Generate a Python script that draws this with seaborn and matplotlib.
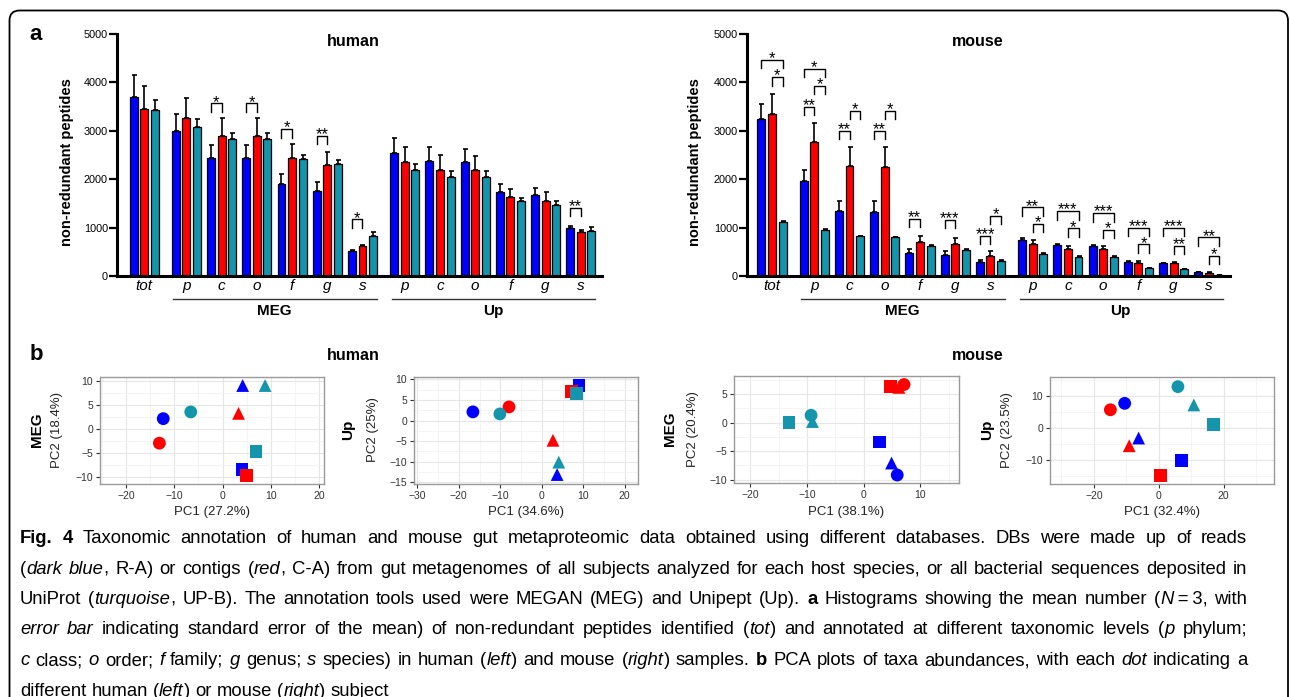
import numpy as np
import pandas as pd
import matplotlib
matplotlib.use("Agg")
import matplotlib.pyplot as plt
import seaborn as sns
from matplotlib.patches import FancyBboxPatch
from matplotlib.ticker import MultipleLocator
from matplotlib.font_manager import FontProperties
import matplotlib.transforms as mtransforms

# ---------------- data ----------------
levels = ["p", "c", "o", "f", "g", "s"]
bar_labels = ["tot"] + levels + levels
tool_groups = ["MEG", "Up"]
databases = ["R-A", "C-A", "UP-B"]
db_colors = {"R-A": "#0000FF", "C-A": "#FF0000", "UP-B": "#1495AB"}

# human (a, left): mean and SEM for tot, MEG p..s, Up p..s
human_RA_mean = [3690, 3000, 2435, 2435, 1900, 1765, 525, 2550, 2380, 2360, 1745, 1670, 1000]
human_RA_sem = [470, 345, 275, 275, 200, 185, 8, 300, 275, 270, 165, 150, 40]
human_CA_mean = [3450, 3260, 2890, 2890, 2435, 2300, 630, 2360, 2200, 2190, 1635, 1550, 900]
human_CA_sem = [480, 420, 370, 370, 295, 270, 20, 310, 290, 290, 170, 180, 50]
human_UPB_mean = [3420, 3080, 2830, 2830, 2410, 2320, 830, 2190, 2055, 2050, 1550, 1475, 930]
human_UPB_sem = [220, 170, 130, 130, 90, 70, 70, 130, 115, 110, 65, 65, 75]

# mouse (a, right)
mouse_RA_mean = [3250, 1960, 1340, 1330, 470, 435, 283, 750, 640, 630, 290, 260, 75]
mouse_RA_sem = [310, 230, 205, 210, 80, 90, 42, 30, 20, 20, 20, 15, 5]
mouse_CA_mean = [3340, 2765, 2270, 2260, 700, 670, 415, 655, 565, 565, 275, 270, 70]
mouse_CA_sem = [420, 400, 400, 405, 130, 125, 95, 85, 50, 50, 35, 20, 20]
mouse_UPB_mean = [1125, 950, 820, 805, 620, 530, 315, 450, 395, 395, 160, 145, 20]
mouse_UPB_sem = [12, 12, 10, 10, 30, 30, 25, 20, 10, 10, 5, 5, 3]

# significance brackets: (bar group index, db index 1, db index 2, bracket top, label)
human_brackets = [
    (2, 0, 1, 3570, "*"), (3, 0, 1, 3570, "*"), (4, 0, 1, 3035, "*"),
    (5, 0, 1, 2900, "**"), (6, 0, 1, 1170, "*"), (12, 0, 1, 1415, "**"),
]
mouse_brackets = [
    (0, 0, 2, 4470, "*"), (0, 1, 2, 4110, "*"),
    (1, 0, 2, 4280, "*"), (1, 1, 2, 3930, "*"), (1, 0, 1, 3500, "**"),
    (2, 0, 1, 3000, "**"), (2, 1, 2, 3415, "*"),
    (3, 0, 1, 3000, "**"), (3, 1, 2, 3415, "*"),
    (4, 0, 1, 1180, "**"),
    (5, 0, 1, 1160, "***"),
    (6, 0, 1, 830, "***"), (6, 1, 2, 1240, "*"),
    (7, 0, 2, 1420, "**"), (7, 1, 2, 1075, "*"),
    (8, 0, 2, 1340, "***"), (8, 1, 2, 985, "*"),
    (9, 0, 2, 1300, "***"), (9, 1, 2, 950, "*"),
    (10, 0, 2, 1000, "***"), (10, 1, 2, 655, "*"),
    (11, 0, 2, 1000, "***"), (11, 1, 2, 630, "**"),
    (12, 0, 2, 800, "**"), (12, 1, 2, 415, "*"),
]

# PCA (b): order R-A (S1,S2,S3), C-A (S1,S2,S3), UP-B (S1,S2,S3)
pca_db = ["R-A"] * 3 + ["C-A"] * 3 + ["UP-B"] * 3
pca_subject = ["S1", "S2", "S3"] * 3
human_MEG_PC1 = [-12.3, 4.15, 4.0, -13.1, 3.3, 5.0, -6.6, 8.8, 6.9]
human_MEG_PC2 = [2.1, 9.0, -8.5, -3.0, 3.2, -9.8, 3.5, 9.0, -4.7]
human_Up_PC1 = [-16.6, 3.7, 9.0, -7.9, 2.7, 7.1, -10.1, 4.1, 8.3]
human_Up_PC2 = [2.1, -13.1, 8.5, 3.3, -4.8, 7.0, 1.6, -10.1, 6.6]
mouse_MEG_PC1 = [5.9, 4.9, 2.8, 7.1, 6.2, 4.7, -9.3, -9.05, -13.2]
mouse_MEG_PC2 = [-9.2, -7.1, -3.4, 6.7, 6.2, 6.4, 1.3, 0.2, 0.1]
mouse_Up_PC1 = [-10.5, -6.2, 7.0, -14.9, -9.1, 0.6, 5.9, 10.8, 16.9]
mouse_Up_PC2 = [7.7, -3.1, -10.1, 5.7, -5.5, -14.8, 12.9, 7.2, 1.0]
pca_labels = {
    "hMEG": ("PC1 (27.2%)", "PC2 (18.4%)"),
    "hUp": ("PC1 (34.6%)", "PC2 (25%)"),
    "mMEG": ("PC1 (38.1%)", "PC2 (20.4%)"),
    "mUp": ("PC1 (32.4%)", "PC2 (23.5%)"),
}

caption_lines = [
    [("Fig. 4", "b"), (" Taxonomic annotation of human and mouse gut metaproteomic data obtained using different databases. DBs were made up of reads", "n")],
    [("(", "n"), ("dark blue", "i"), (", R-A) or contigs (", "n"), ("red", "i"),
     (", C-A) from gut metagenomes of all subjects analyzed for each host species, or all bacterial sequences deposited in", "n")],
    [("UniProt (", "n"), ("turquoise", "i"), (", UP-B). The annotation tools used were MEGAN (MEG) and Unipept (Up). ", "n"),
     ("a", "b"), (" Histograms showing the mean number (", "n"), ("N", "i"), ("\u2009=\u20093, with", "n")],
    [("error bar", "i"), (" indicating standard error of the mean) of non-redundant peptides identified (", "n"), ("tot", "i"),
     (") and annotated at different taxonomic levels (", "n"), ("p", "i"), (" phylum;", "n")],
    [("c", "i"), (" class; ", "n"), ("o", "i"), (" order; ", "n"), ("f", "i"), (" family; ", "n"), ("g", "i"), (" genus; ", "n"),
     ("s", "i"), (" species) in human (", "n"), ("left", "i"), (") and mouse (", "n"), ("right", "i"), (") samples. ", "n"),
     ("b", "b"), (" PCA plots of taxa abundances, with each ", "n"), ("dot", "i"), (" indicating a", "n")],
    [("different human (", "n"), ("left", "i"), (") or mouse (", "n"), ("right", "i"), (") subject", "n")],
]

# ---------------- figure ----------------
W, H, DPI = 1290, 697, 100
plt.rcParams["font.family"] = ["Liberation Sans", "DejaVu Sans"]
fig = plt.figure(figsize=(W / DPI, H / DPI), dpi=DPI)


def add_px_axes(l, t, r, b):
    return fig.add_axes([l / W, 1 - b / H, (r - l) / W, (b - t) / H])


group_pos = np.array([0.0] + [1.2 + i for i in range(6)] + [7.4 + i for i in range(6)])
bar_offsets = [-0.30, 0.0, 0.30]


def draw_bars(ax, means, sems, brackets, xleft):
    rows = []
    for d, db in enumerate(databases):
        for k in range(len(bar_labels)):
            rows.append(dict(x=round(group_pos[k] + bar_offsets[d], 4), mean=means[d][k],
                             sem=sems[d][k], db=db))
    df = pd.DataFrame(rows)
    sns.barplot(data=df, x="x", y="mean", hue="db", hue_order=databases, palette=db_colors,
                native_scale=True, dodge=False, width=0.75, saturation=1, edgecolor="black",
                linewidth=0.9, errorbar=None, legend=False, ax=ax, zorder=2)
    ax.errorbar(df["x"], df["mean"], yerr=[np.zeros(len(df)), df["sem"]], fmt="none",
                ecolor="black", elinewidth=1.2, capsize=1.8, capthick=1.2, zorder=3)
    ax.set_xlim(xleft, 13.0)
    ax.set_ylim(0, 5000)
    ax.set_yticks(range(0, 5001, 1000))
    ax.set_xticks(group_pos, bar_labels)
    for lab in ax.get_xticklabels():
        lab.set_fontstyle("italic")
    ax.tick_params(axis="x", length=0, pad=2, labelsize=11)
    ax.tick_params(axis="y", length=6, width=1.6, pad=0.5, labelsize=7.8)
    for side in ("top", "right"):
        ax.spines[side].set_visible(False)
    for side in ("left", "bottom"):
        ax.spines[side].set_linewidth(2.2)
    ax.set_xlabel("")
    ax.set_ylabel("")
    # group underline + labels
    tr = mtransforms.blended_transform_factory(ax.transData, ax.transAxes)
    for gi, name in enumerate(tool_groups):
        first = group_pos[1 + gi * 6]
        last = group_pos[6 + gi * 6]
        ax.plot([first - 0.37, last + 0.40], [-0.093, -0.093], transform=tr, color="#333333",
                lw=1.0, clip_on=False)
        ax.text((first + last) / 2, -0.145, name, transform=tr, ha="center", va="center",
                fontsize=11, fontweight="bold")
    # brackets
    leg = 175
    for k, d1, d2, top, lab in brackets:
        x1 = group_pos[k] + bar_offsets[d1]
        x2 = group_pos[k] + bar_offsets[d2]
        ax.plot([x1, x1, x2, x2], [top - leg, top, top, top - leg], color="black", lw=1.0,
                zorder=4, clip_on=False)
        ax.annotate(lab, ((x1 + x2) / 2, top), xytext=(0, -2.5), textcoords="offset points",
                    ha="center", va="baseline", fontsize=12, annotation_clip=False)


ax_h = add_px_axes(117, 34, 602, 276)
draw_bars(ax_h, [human_RA_mean, human_CA_mean, human_UPB_mean],
          [human_RA_sem, human_CA_sem, human_UPB_sem], human_brackets, -0.77)
ax_m = add_px_axes(747, 34, 1230, 276)
draw_bars(ax_m, [mouse_RA_mean, mouse_CA_mean, mouse_UPB_mean],
          [mouse_RA_sem, mouse_CA_sem, mouse_UPB_sem], mouse_brackets, -0.71)

markers = {"S1": "o", "S2": "^", "S3": "s"}


def draw_pca(ax, xs, ys, xlim, ylim, xstep, ystep, xlabel):
    df = pd.DataFrame(dict(PC1=xs, PC2=ys, db=pca_db, subject=pca_subject))
    ax.set_axisbelow(True)
    sns.scatterplot(data=df, x="PC1", y="PC2", hue="db", style="subject", hue_order=databases,
                    palette=db_colors, markers=markers, s=85, linewidth=0, legend=False,
                    ax=ax, zorder=3)
    ax.set_xlim(*xlim)
    ax.set_ylim(*ylim)
    ax.xaxis.set_major_locator(MultipleLocator(xstep))
    ax.yaxis.set_major_locator(MultipleLocator(ystep))
    ax.xaxis.set_minor_locator(MultipleLocator(xstep / 2))
    ax.yaxis.set_minor_locator(MultipleLocator(ystep / 2))
    ax.grid(which="major", color="#E6E6E6", lw=0.8)
    ax.grid(which="minor", color="#F3F3F3", lw=0.6)
    ax.tick_params(which="minor", length=0)
    ax.tick_params(which="major", length=3, width=0.8, color="#333333", labelsize=7.5,
                   labelcolor="#333333", pad=2)
    for sp in ax.spines.values():
        sp.set_color("#9A9A9A")
        sp.set_linewidth(1.0)
    ax.set_xlabel(xlabel, fontsize=9.5, color="#222222", labelpad=4)
    ax.set_ylabel("")


p1 = add_px_axes(100, 377, 324, 484)
draw_pca(p1, human_MEG_PC1, human_MEG_PC2, (-25.4, 21.0), (-11.5, 10.77), 10, 5, pca_labels["hMEG"][0])
p2 = add_px_axes(414, 377, 638, 484)
draw_pca(p2, human_Up_PC1, human_Up_PC2, (-30.8, 23.2), (-15.4, 10.56), 10, 5, pca_labels["hUp"][0])
p3 = add_px_axes(734, 376, 959, 483)
draw_pca(p3, mouse_MEG_PC1, mouse_MEG_PC2, (-22.9, 16.8), (-10.6, 8.2), 10, 5, pca_labels["mMEG"][0])
p4 = add_px_axes(1050, 377, 1274, 484)
draw_pca(p4, mouse_Up_PC1, mouse_Up_PC2, (-33.5, 35.5), (-17.4, 15.9), 20, 10, pca_labels["mUp"][0])

# ---------------- overlay (pixel coords) ----------------
ov = fig.add_axes([0, 0, 1, 1], zorder=10)
ov.set_xlim(0, W)
ov.set_ylim(H, 0)
ov.set_axis_off()
ov.add_patch(FancyBboxPatch((9.5, 10.5), 1278.5, 760, boxstyle="round,pad=0,rounding_size=10",
                            fill=False, ec="black", lw=1.3))
ov.text(36, 34, "a", fontsize=16, fontweight="bold", ha="center", va="center")
ov.text(36, 355, "b", fontsize=16, fontweight="bold", ha="center", va="center")
ov.text(353, 41, "human", fontsize=11.5, fontweight="bold", ha="center", va="center")
ov.text(978, 41, "mouse", fontsize=11.5, fontweight="bold", ha="center", va="center")
ov.text(353, 355, "human", fontsize=11.5, fontweight="bold", ha="center", va="center")
ov.text(978, 355, "mouse", fontsize=11.5, fontweight="bold", ha="center", va="center")
ov.text(67, 162, "non-redundant peptides", rotation=90, fontsize=10.5, fontweight="bold",
        ha="center", va="center")
ov.text(695, 162, "non-redundant peptides", rotation=90, fontsize=10.5, fontweight="bold",
        ha="center", va="center")
for (gx, px_, yc, name, key) in [(37, 57, 430, "MEG", "hMEG"), (348, 373, 430, "Up", "hUp"),
                                 (670, 693, 429, "MEG", "mMEG"), (987, 1007, 430, "Up", "mUp")]:
    ov.text(gx, yc, name, rotation=90, fontsize=11, fontweight="bold", ha="center", va="center")
    ov.text(px_, yc, pca_labels[key][1], rotation=90, fontsize=9.5, color="#222222",
            ha="center", va="center")

# caption (justified)
renderer = fig.canvas.get_renderer()
cap_family = ["Liberation Sans", "DejaVu Sans"]


def make_fps(size):
    return {
        "n": FontProperties(family=cap_family, size=size),
        "b": FontProperties(family=cap_family, size=size, weight="bold"),
        "i": FontProperties(family=cap_family, size=size, style="italic"),
    }


def text_w(s, fp):
    w1 = renderer.get_text_width_height_descent(s + "|", fp, ismath=False)[0]
    w2 = renderer.get_text_width_height_descent("|", fp, ismath=False)[0]
    return w1 - w2


x0_cap, x1_cap = 20, 1247
# fit the font size so that the widest justified line nearly fills the text block
base_fp = make_fps(12)
nat = max(sum(text_w(t, base_fp[s]) for t, s in segs) for segs in caption_lines[:-1])
cap_size = 12 * (x1_cap - x0_cap) * 0.985 / nat
cap_fp = make_fps(cap_size)

y0_cap, dy_cap = 543, 30.5
space_w = text_w(" ", cap_fp["n"])
for li, segs in enumerate(caption_lines):
    tokens = []
    pending = False
    for txt, st in segs:
        parts = txt.split(" ")
        for k, p in enumerate(parts):
            if k > 0:
                pending = True
            if p == "":
                continue
            tokens.append([p, st, pending and len(tokens) > 0])
            pending = False
    widths = [text_w(t[0], cap_fp[t[1]]) for t in tokens]
    ngaps = sum(1 for t in tokens if t[2])
    justify = li < len(caption_lines) - 1
    gap = (x1_cap - x0_cap - sum(widths)) / ngaps if justify else space_w
    x = x0_cap
    y = y0_cap + li * dy_cap
    for (txt, st, g), w in zip(tokens, widths):
        if g:
            x += gap
        ov.text(x, y, txt, fontproperties=cap_fp[st], ha="left", va="baseline")
        x += w

fig.savefig("out.png", dpi=DPI)
